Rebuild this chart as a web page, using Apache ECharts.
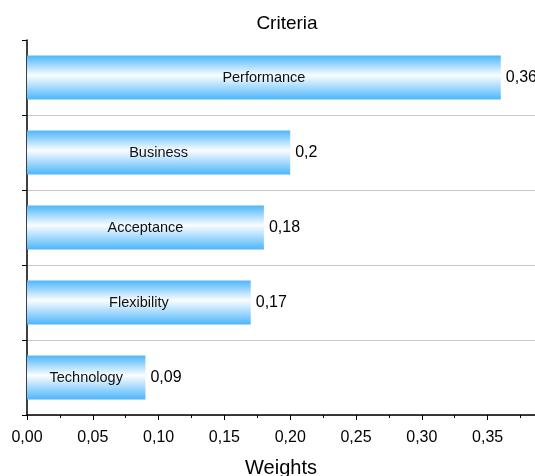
<!DOCTYPE html>
<html>
<head>
<meta charset="utf-8">
<script src="https://cdn.jsdelivr.net/npm/echarts@6/dist/echarts.min.js"></script>
<style>
  html, body { margin: 0; padding: 0; background: #fff; }
  #chart { width: 535px; height: 476px; }
</style>
</head>
<body>
<div id="chart"></div>
<script>
const criteria = ['Performance', 'Business', 'Acceptance', 'Flexibility', 'Technology'];
const weights = [0.36, 0.2, 0.18, 0.17, 0.09];

const fmt = (v) => String(v).replace('.', ',');
const font = 'Liberation Sans, Arial, Helvetica, sans-serif';

const chart = echarts.init(document.getElementById('chart'));

const barFill = new echarts.graphic.LinearGradient(0, 0, 0, 1, [
  { offset: 0, color: '#4db6fb' },
  { offset: 0.45, color: '#fbfdff' },
  { offset: 1, color: '#4db6fb' },
]);

const option = {
  animation: false,
  textStyle: { fontFamily: font },
  title: {
    text: 'Criteria',
    left: 282,
    top: 9,
    textAlign: 'center',
    textStyle: { fontSize: 19, fontWeight: 'normal', color: '#000', fontFamily: font },
  },
  grid: { left: 27, right: 0, top: 40, bottom: 61, containLabel: false, outerBoundsMode: 'none' },
  xAxis: {
    type: 'value',
    min: 0,
    max: 0.386,
    interval: 0.05,
    name: 'Weights',
    nameLocation: 'middle',
    nameGap: 43,
    nameTextStyle: { fontSize: 20, color: '#000', fontFamily: font },
    axisLine: { show: true, lineStyle: { color: '#000', width: 1.5 } },
    axisTick: { show: true, length: 5, lineStyle: { color: '#000' } },
    minorTick: { show: true, splitNumber: 2, length: 3, lineStyle: { color: '#000' } },
    splitLine: { show: false },
    axisLabel: {
      fontSize: 16,
      color: '#000',
      margin: 15,
      showMaxLabel: false,
      formatter: (v) => v.toFixed(2).replace('.', ','),
    },
  },
  yAxis: {
    type: 'category',
    data: criteria,
    inverse: true,
    axisLine: { show: true, lineStyle: { color: '#000', width: 1.5 } },
    axisTick: { show: true, length: 5, lineStyle: { color: '#000' } },
    axisLabel: { show: false },
    splitLine: {
      show: true,
      interval: (i) => i > 0,
      lineStyle: { color: '#c8c8c8', width: 1 },
    },
  },
  series: [
    {
      type: 'bar',
      data: weights,
      barWidth: 44,
      itemStyle: { color: barFill },
      label: {
        show: true,
        position: 'inside',
        formatter: '{b}',
        fontSize: 14.5,
        color: '#111',
        fontFamily: font,
      },
    },
    {
      type: 'bar',
      data: weights,
      barWidth: 44,
      barGap: '-100%',
      itemStyle: { color: 'rgba(0,0,0,0)' },
      label: {
        show: true,
        position: 'right',
        distance: 5,
        formatter: (p) => fmt(p.value),
        fontSize: 16,
        color: '#000',
        fontFamily: font,
      },
      z: 3,
    },
  ],
};

chart.setOption(option);
</script>
</body>
</html>
